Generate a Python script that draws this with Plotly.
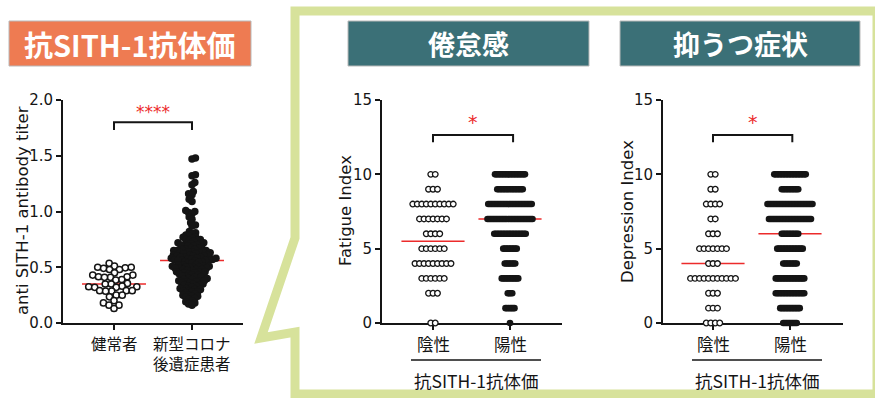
import statistics
import plotly.graph_objects as go

W, H = 875, 398

# ---------------- data ----------------
titer_groups = ["健常者", "新型コロナ<br>後遺症患者"]
titer_ticks = [0.0, 0.5, 1.0, 1.5, 2.0]

healthy_titer = [
    0.535, 0.51, 0.50, 0.50, 0.495, 0.49, 0.48, 0.48, 0.45, 0.43, 0.43,
    0.415, 0.415, 0.41, 0.41, 0.39, 0.385, 0.355, 0.35, 0.35, 0.33, 0.325,
    0.325, 0.32, 0.32, 0.29, 0.29, 0.29, 0.285, 0.285, 0.25, 0.25, 0.235,
    0.20, 0.18, 0.16, 0.16, 0.13,
]

patient_titer = [
    1.48, 1.47, 1.33, 1.32, 1.26, 1.24, 1.18, 1.16, 1.15, 1.11, 1.09, 1.01,
    1.00, 0.99, 0.98, 0.95, 0.93, 0.90, 0.88, 0.87,
    0.82, 0.81, 0.80, 0.79, 0.78,
    0.77, 0.77, 0.76, 0.75, 0.75, 0.74, 0.74, 0.73,
    0.72, 0.72, 0.71, 0.71, 0.70, 0.70, 0.70, 0.69, 0.69, 0.68,
    0.67, 0.67, 0.66, 0.66, 0.66, 0.65, 0.65, 0.65, 0.64, 0.64, 0.64, 0.63,
    0.63, 0.63,
    0.62, 0.62, 0.61, 0.61, 0.61, 0.60, 0.60, 0.60, 0.59, 0.59, 0.59, 0.58,
    0.58, 0.58,
    0.575, 0.57, 0.57, 0.565, 0.565, 0.56, 0.56, 0.56, 0.555, 0.55, 0.55,
    0.545, 0.54, 0.535,
    0.52, 0.52, 0.52, 0.51, 0.51, 0.51, 0.50, 0.50, 0.50, 0.50, 0.49, 0.49,
    0.49, 0.48, 0.48, 0.48,
    0.47, 0.47, 0.46, 0.46, 0.46, 0.45, 0.45, 0.44, 0.44, 0.43, 0.43, 0.43,
    0.42, 0.42, 0.41, 0.41, 0.40, 0.40, 0.39, 0.39, 0.38, 0.38, 0.38,
    0.37, 0.37, 0.36, 0.36, 0.35, 0.35, 0.34, 0.34, 0.33, 0.33,
    0.32, 0.31, 0.31, 0.30, 0.30, 0.29, 0.29, 0.28, 0.28,
    0.27, 0.26, 0.25, 0.25, 0.24, 0.24, 0.23,
    0.22, 0.21, 0.20, 0.19,
    0.18, 0.17, 0.16,
]

antibody_groups = ["陰性", "陽性"]
index_ticks = [0, 5, 10, 15]
score_levels = list(range(11))
fatigue_neg_counts = [2, 0, 3, 6, 9, 6, 4, 7, 10, 3, 2]
fatigue_pos_counts = [1, 7, 4, 12, 8, 10, 22, 31, 30, 18, 21]
depression_neg_counts = [4, 3, 3, 11, 3, 7, 3, 2, 4, 2, 2]
depression_pos_counts = [10, 14, 20, 20, 10, 18, 12, 29, 31, 12, 22]

# ---------------- styling ----------------
ORANGE = "#EE7B52"
TEAL = "#3B7077"
GREEN = "#D7E29B"
RED = "#EC2B2B"
INK = "#151515"
LATIN = "DejaVu Sans, Verdana, sans-serif"
CJK = "Noto Sans CJK JP, sans-serif"

# panel geometry in pixels: axis left/right, category centres, plot top/bottom
TOP, BOTTOM = 100, 323
panels = [
    dict(x0=63, x1=243, c0=114, c1=192, ymax=2.0),
    dict(x0=382, x1=562, c0=433, c1=510, ymax=15),
    dict(x0=663, x1=843, c0=713, c1=790, ymax=15),
]
for p in panels:
    p["ppu"] = p["c1"] - p["c0"]
    p["xr"] = [(p["x0"] - p["c0"]) / p["ppu"], (p["x1"] - p["c0"]) / p["ppu"]]
    p["ypu"] = (BOTTOM - TOP) / p["ymax"]


def px(x):
    return x / W


def py(y):
    return 1 - y / H


def swarm(values, ypu, gap):
    """Beeswarm: each point takes the free horizontal offset nearest the centre."""
    order = sorted(range(len(values)), key=lambda i: values[i])
    placed, offs = [], [0.0] * len(values)
    for n, i in enumerate(order):
        y = values[i] * ypu
        near = [(a, b) for a, b in placed if abs(b - y) < gap]
        cands = [0.0]
        for a, b in near:
            dx = (gap ** 2 - (b - y) ** 2) ** 0.5
            cands += [a + dx, a - dx]
        good = [c for c in cands
                if all((c - a) ** 2 + (y - b) ** 2 >= gap ** 2 - 1e-6 for a, b in near)]
        sgn = 1 if n % 2 else -1
        best = min(good, key=lambda c: (round(abs(c), 4), sgn * c))
        placed.append((best, y))
        offs[i] = best
    return offs


def rows(counts, step):
    vals, offs = [], []
    for lvl, n in zip(score_levels, counts):
        for k in range(n):
            vals.append(lvl)
            offs.append((k - (n - 1) / 2) * step)
    return vals, offs


fig = go.Figure()
shapes, annotations = [], []


def note(**kw):
    kw.setdefault("showarrow", False)
    kw.setdefault("xanchor", "center")
    kw.setdefault("yanchor", "middle")
    annotations.append(kw)


def add_group(pi, cat, vals, offs_px, filled, size, lw):
    p = panels[pi]
    suffix = "" if pi == 0 else str(pi + 1)
    fig.add_trace(go.Scatter(
        x=[cat + o / p["ppu"] for o in offs_px], y=vals, mode="markers",
        xaxis="x" + suffix, yaxis="y" + suffix, cliponaxis=False,
        hoverinfo="skip",
        marker=dict(symbol="circle", size=size,
                    color=INK if filled else "white",
                    line=dict(color=INK, width=lw)),
    ))
    med = statistics.median(vals)
    shapes.append(dict(type="line", xref="x" + suffix, yref="y" + suffix,
                       x0=cat - 0.41, x1=cat + 0.41, y0=med, y1=med,
                       line=dict(color=RED, width=1.6), layer="below"))


# left panel: antibody titre
p0 = panels[0]
add_group(0, 0, healthy_titer, swarm(healthy_titer, p0["ypu"], 6.0), False, 6.2, 1.5)
add_group(0, 1, patient_titer, swarm(patient_titer, p0["ypu"], 3.6), True, 7.5, 0)

# fatigue / depression panels
for pi, neg, pos in [(1, fatigue_neg_counts, fatigue_pos_counts),
                     (2, depression_neg_counts, depression_pos_counts)]:
    v, o = rows(neg, 4.5)
    add_group(pi, 0, v, o, False, 5.6, 1.3)
    v, o = rows(pos, 1.5)
    add_group(pi, 1, v, o, True, 6.6, 0)

# axes
axis_common = dict(showline=True, linecolor=INK, linewidth=1.8, ticks="outside",
                   ticklen=5, tickwidth=1.5, tickcolor=INK, showgrid=False,
                   zeroline=False, layer="below traces", fixedrange=True,
                   automargin=False)
layout_axes = {}
for pi, p in enumerate(panels):
    suffix = "" if pi == 0 else str(pi + 1)
    ticks = titer_ticks if pi == 0 else index_ticks
    layout_axes["xaxis" + suffix] = dict(
        axis_common, domain=[px(p["x0"]), px(p["x1"])], range=p["xr"],
        tickvals=[0, 1], showticklabels=False,
        anchor="y" + suffix)
    layout_axes["yaxis" + suffix] = dict(
        axis_common, domain=[py(BOTTOM), py(TOP)], range=[0, p["ymax"]],
        tickvals=ticks,
        ticktext=[f"{t:.1f}" for t in ticks] if pi == 0 else [str(t) for t in ticks],
        tickfont=dict(family=LATIN, size=15, color=INK),
        anchor="x" + suffix)

# category labels (top-anchored just below the x-axis)
for i, g in enumerate(titer_groups):
    note(xref="x", yref="paper", x=i, y=py(330), yanchor="top", text=g,
         font=dict(family=CJK, size=15.5, color=INK))
for pi in (1, 2):
    for i, g in enumerate(antibody_groups):
        note(xref="x" + str(pi + 1), yref="paper", x=i, y=py(330), yanchor="top",
             text=g, font=dict(family=CJK, size=16.5, color=INK))

# y-axis titles
for x, yc, t in [(22, 211, "anti SITH-1 antibody titer"),
                 (345, 211, "Fatigue Index"),
                 (627, 212, "Depression Index")]:
    note(xref="paper", yref="paper", x=px(x), y=py(yc), text=t, textangle=-90,
         font=dict(family=LATIN, size=16.5, color=INK))

# significance brackets
for pi, top, leg, x1, star, stary, ssize in [
        (0, 1.80, 1.73, 1.0, "****", 1.89, 17),
        (1, 12.65, 12.15, 1.04, "*", 13.5, 19),
        (2, 12.65, 12.15, 1.03, "*", 13.5, 19)]:
    suffix = "" if pi == 0 else str(pi + 1)
    shapes.append(dict(type="path", xref="x" + suffix, yref="y" + suffix,
                       path=f"M 0,{leg} L 0,{top} L {x1},{top} L {x1},{leg}",
                       line=dict(color=INK, width=2)))
    note(xref="x" + suffix, yref="y" + suffix, x=x1 / 2, y=stary, text=star,
         font=dict(family=LATIN, size=ssize, color=RED))

# shared x-axis group label under the right panels
for xa, xb in [(411, 541), (692, 822)]:
    shapes.append(dict(type="line", xref="paper", yref="paper",
                       x0=px(xa), x1=px(xb), y0=py(360), y1=py(360),
                       line=dict(color=INK, width=1.5)))
    note(xref="paper", yref="paper", x=px((xa + xb) / 2), y=py(380.5),
         text="抗SITH-1抗体価", font=dict(family=CJK, size=17.5, color=INK))

# callout frame around the symptom panels
frame = [(295, 238), (295, 11), (877, 11), (877, 394), (295, 394), (295, 332), (261, 338)]
path = "M " + " L ".join(f"{px(x)},{py(y)}" for x, y in frame) + " Z"
shapes.append(dict(type="path", xref="paper", yref="paper", path=path,
                   line=dict(color=GREEN, width=9), layer="below"))

# header boxes
for (xa, xb), col, text, fs in [((9, 251), ORANGE, "抗SITH-1抗体価", 29),
                                ((348, 589), TEAL, "倦怠感", 27),
                                ((620, 860), TEAL, "抑うつ症状", 27)]:
    shapes.append(dict(type="rect", xref="paper", yref="paper",
                       x0=px(xa), x1=px(xb), y0=py(66), y1=py(21),
                       fillcolor=col, line=dict(color="#b9b9b9", width=1), layer="below"))
    note(xref="paper", yref="paper", x=px((xa + xb) / 2), y=py(43.5),
         text=f"<b>{text}</b>", font=dict(family=CJK, size=fs, color="white"))

fig.update_layout(
    width=W, height=H, margin=dict(l=0, r=0, t=0, b=0, pad=0, autoexpand=False),
    paper_bgcolor="white", plot_bgcolor="white", showlegend=False,
    shapes=shapes, annotations=annotations, **layout_axes,
)

fig.write_html("out.html", config={"displayModeBar": False})
